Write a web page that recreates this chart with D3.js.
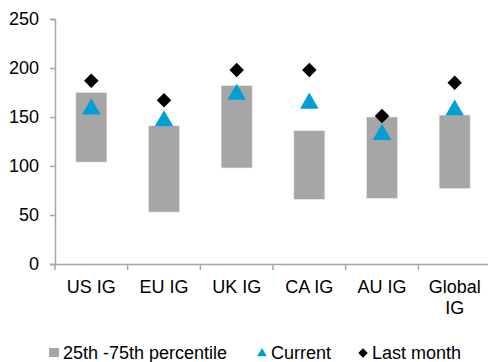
<!DOCTYPE html>
<html>
<head>
<meta charset="utf-8">
<script src="https://cdn.jsdelivr.net/npm/d3@7"></script>
<style>
  body { margin: 0; background: #fff; }
  svg text { font-family: "Liberation Sans", Arial, sans-serif; }
</style>
</head>
<body>
<div id="chart"></div>
<script>
// data ---------------------------------------------------------------
const categories = ['US IG', 'EU IG', 'UK IG', 'CA IG', 'AU IG', 'Global IG'];
const pctLow = [104, 53, 98, 66, 67, 77];
const pctHigh = [175, 141, 182, 136, 150, 152];
const current = [160, 148, 175, 166, 134, 159];
const lastMonth = [187, 167, 198, 198, 151, 185];
const yTicks = [0, 50, 100, 150, 200, 250];

// svg ----------------------------------------------------------------
const width = 488, height = 362;
const fontSize = '18px';
const svg = d3.select('#chart').append('svg')
  .attr('width', width)
  .attr('height', height);

const x = d3.scaleBand().domain(categories).range([55, 491]);
const y = d3.scaleLinear().domain([0, 250]).range([264, 19]);
const axisColor = '#a6a6a6';
const barColor = '#a6a6a6';
const triColor = '#00a0d6';

// y axis
const yAxis = svg.append('g')
  .attr('transform', 'translate(55,0)')
  .call(d3.axisLeft(y).tickValues(yTicks).tickSize(5).tickPadding(11));
yAxis.select('.domain').attr('stroke', axisColor).attr('stroke-width', 1.5);
yAxis.selectAll('.tick line').attr('stroke', axisColor).attr('stroke-width', 1.5);
yAxis.selectAll('.tick text').attr('font-size', fontSize).attr('fill', '#000');

// x axis
const xAxis = svg.append('g')
  .attr('transform', 'translate(0,264)')
  .call(d3.axisBottom(x).tickSize(0).tickFormat(''));
xAxis.select('.domain').attr('stroke', axisColor).attr('stroke-width', 1.5);
// tick marks at band boundaries
svg.append('g').selectAll('line')
  .data(categories)
  .enter().append('line')
  .attr('x1', d => x(d)).attr('x2', d => x(d))
  .attr('y1', 264).attr('y2', 270)
  .attr('stroke', axisColor).attr('stroke-width', 1.5);

// x labels
const xLab = svg.append('g').selectAll('text')
  .data(categories)
  .enter().append('text')
  .attr('text-anchor', 'middle')
  .attr('font-size', fontSize)
  .attr('fill', '#000')
  .attr('x', d => x(d) + x.bandwidth() / 2)
  .attr('y', 293);
xLab.each(function (d) {
  const parts = d === 'Global IG' ? ['Global', 'IG'] : [d];
  const t = d3.select(this);
  parts.forEach((p, i) => {
    t.append('tspan')
      .attr('x', x(d) + x.bandwidth() / 2)
      .attr('dy', i === 0 ? 0 : 21)
      .text(p);
  });
});

// percentile bars
const barW = 31;
svg.append('g').selectAll('rect')
  .data(categories)
  .enter().append('rect')
  .attr('x', d => x(d) + x.bandwidth() / 2 - barW / 2)
  .attr('width', barW)
  .attr('y', (d, i) => y(pctHigh[i]))
  .attr('height', (d, i) => y(pctLow[i]) - y(pctHigh[i]))
  .attr('fill', barColor)
  .attr('stroke', '#e6e6e6')
  .attr('stroke-width', 0.6);

// markers
const triSym = d3.symbol().type(d3.symbolTriangle).size(150);
const diaSym = d3.symbol().type(d3.symbolSquare).size(105);

svg.append('g').selectAll('path')
  .data(categories)
  .enter().append('path')
  .attr('d', triSym)
  .attr('transform', (d, i) => 'translate(' + (x(d) + x.bandwidth() / 2) + ',' + (y(current[i]) + 2) + ')')
  .attr('fill', triColor);

svg.append('g').selectAll('path')
  .data(categories)
  .enter().append('path')
  .attr('d', diaSym)
  .attr('transform', (d, i) => 'translate(' + (x(d) + x.bandwidth() / 2) + ',' + y(lastMonth[i]) + ') rotate(45)')
  .attr('fill', '#000');

// legend -------------------------------------------------------------
const leg = svg.append('g').attr('font-size', fontSize);
leg.append('rect').attr('x', 49).attr('y', 348).attr('width', 10).attr('height', 9).attr('fill', barColor);
leg.append('text').attr('x', 63).attr('y', 359).text('25th -75th percentile');
leg.append('path').attr('d', d3.symbol().type(d3.symbolTriangle).size(40))
  .attr('transform', 'translate(262,353.5)').attr('fill', triColor);
leg.append('text').attr('x', 271).attr('y', 359).text('Current');
leg.append('path').attr('d', d3.symbol().type(d3.symbolSquare).size(45))
  .attr('transform', 'translate(363,353) rotate(45)').attr('fill', '#000');
leg.append('text').attr('x', 372).attr('y', 359).text('Last month');
</script>
</body>
</html>
